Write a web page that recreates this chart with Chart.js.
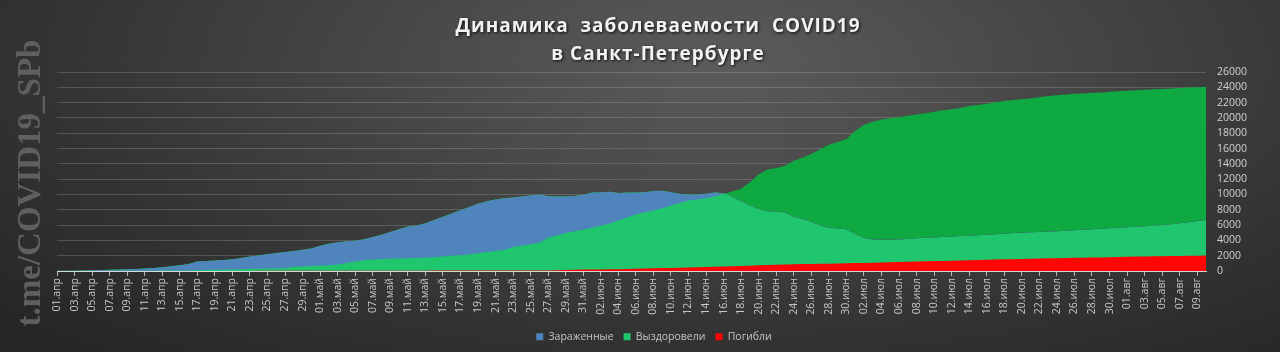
<!DOCTYPE html>
<html>
<head>
<meta charset="utf-8">
<script src="https://cdn.jsdelivr.net/npm/chart.js@4/dist/chart.umd.min.js"></script>
<style>
  html, body { margin: 0; padding: 0; }
  #wrap {
    width: 1280px; height: 352px; position: relative;
    background: radial-gradient(ellipse 75% 110% at 56% 18%, #5c5c5c 0%, #474747 35%, #333333 70%, #262626 100%);
  }
</style>
</head>
<body>
<div id="wrap"><canvas id="myChart"></canvas></div>
<script>
// month name + number of days shown
const months = [['апр', 30], ['май', 31], ['июн', 30], ['июл', 31], ['авг', 10]];

// active cases (blue)
const infected = [
  20, 30, 40, 60, 90, 120, 150, 200, 240, 270,
  330, 400, 500, 620, 740, 900, 1250, 1320, 1380, 1450,
  1550, 1700, 1900, 2050, 2200, 2350, 2480, 2620, 2780, 2950,
  3300, 3550, 3750, 3900, 3950, 4150, 4450, 4750, 5100, 5450,
  5800, 5950, 6250, 6650, 7100, 7500, 7950, 8350, 8800, 9100,
  9350, 9500, 9600, 9750, 9850, 9980, 9780, 9720, 9750, 9800,
  9950, 10250, 10300, 10350, 10200, 10250, 10250, 10300, 10450, 10500,
  10300, 10100, 9950, 10000, 10100, 10250, 10150, 9700, 9150, 8550,
  8100, 7800, 7750, 7650, 7100, 6800, 6450, 5950, 5650, 5550,
  5450, 4850, 4300, 4100, 4080, 4080, 4120, 4180, 4280, 4330,
  4380, 4430, 4480, 4560, 4620, 4680, 4720, 4800, 4880, 4950,
  4990, 5050, 5100, 5140, 5200, 5260, 5330, 5400, 5450, 5520,
  5580, 5660, 5720, 5790, 5860, 5920, 6020, 6120, 6250, 6380,
  6520, 6650
];

// recovered (green)
const recovered = [
  0, 0, 5, 8, 10, 15, 20, 25, 30, 35,
  40, 45, 50, 60, 70, 80, 100, 130, 150, 170,
  200, 240, 280, 300, 320, 340, 360, 560, 600, 640,
  680, 760, 850, 1050, 1250, 1400, 1500, 1560, 1600, 1640,
  1680, 1710, 1740, 1800, 1880, 1980, 2060, 2150, 2330, 2480,
  2620, 2740, 3150, 3300, 3500, 3700, 4350, 4650, 4950, 5200,
  5400, 5650, 5900, 6200, 6600, 7000, 7400, 7650, 7900, 8200,
  8550, 8900, 9200, 9350, 9500, 9750, 10100, 10400, 10750, 11600,
  12650, 13250, 13450, 13750, 14400, 14800, 15300, 15900, 16500, 16850,
  17250, 18300, 19100, 19500, 19800, 19950, 20100, 20300, 20450, 20600,
  20800, 21000, 21120, 21300, 21550, 21700, 21850, 22050, 22200, 22350,
  22450, 22550, 22700, 22850, 22950, 23050, 23150, 23200, 23280, 23330,
  23420, 23500, 23560, 23620, 23680, 23740, 23790, 23840, 23900, 23960,
  24020, 24060
];

// deaths (red)
const deaths = [
  0, 0, 1, 1, 2, 2, 3, 3, 4, 4,
  5, 5, 6, 7, 8, 9, 10, 11, 12, 13,
  14, 15, 16, 17, 18, 19, 20, 21, 22, 23,
  24, 26, 28, 30, 32, 34, 36, 38, 40, 42,
  44, 46, 48, 50, 52, 54, 56, 58, 60, 62,
  64, 66, 68, 70, 72, 75, 80, 90, 120, 150,
  180, 200, 210, 220, 240, 260, 290, 320, 350, 380,
  400, 420, 450, 480, 520, 560, 600, 630, 660, 700,
  740, 780, 820, 850, 880, 900, 920, 940, 960, 980,
  1000, 1030, 1060, 1090, 1120, 1150, 1180, 1210, 1240, 1270,
  1300, 1320, 1340, 1360, 1400, 1430, 1460, 1490, 1520, 1550,
  1580, 1610, 1640, 1660, 1680, 1700, 1720, 1740, 1760, 1780,
  1810, 1840, 1860, 1880, 1900, 1920, 1940, 1955, 1970, 1985,
  2000, 2010
];

const titleLines = ['Динамика  заболеваемости  COVID19', 'в Санкт-Петербурге'];
const watermark = 't.me/COVID19_SPb';

const labels = [];
months.forEach(([name, days]) => {
  for (let d = 1; d <= days; d++) {
    labels.push((d < 10 ? '0' : '') + d + '.' + name);
  }
});

const blue = '#4f84bd';
const lightGreen = '#1fc66d';
const darkGreen = '#0ea941';
const red = '#ff0505';

// title + watermark drawn on the canvas
const decor = {
  id: 'decor',
  afterDraw(chart) {
    const ctx = chart.ctx;
    ctx.save();
    ctx.textAlign = 'center';
    ctx.textBaseline = 'middle';
    ctx.font = 'bold 19px "Open Sans"';
    ctx.letterSpacing = '1px';
    ctx.shadowColor = 'rgba(0,0,0,0.85)';
    ctx.shadowBlur = 3;
    ctx.shadowOffsetX = 1;
    ctx.shadowOffsetY = 1;
    ctx.fillStyle = '#f2f2f2';
    ctx.fillText(titleLines[0], 658, 27);
    ctx.fillText(titleLines[1], 658, 55);
    ctx.restore();

    ctx.save();
    ctx.translate(40, 183);
    ctx.rotate(-Math.PI / 2);
    ctx.textAlign = 'center';
    ctx.textBaseline = 'alphabetic';
    ctx.font = 'bold 33px "Liberation Serif"';
    ctx.fillStyle = '#5f5f5f';
    ctx.fillText(watermark, 0, 0);
    ctx.restore();
  }
};

const data = {
  labels: labels,
  datasets: [
    {
      label: 'Зараженные',
      data: infected,
      backgroundColor: blue,
      borderColor: 'transparent',
      borderWidth: 0,
      pointRadius: 0,
      fill: { target: 'origin', above: lightGreen, below: lightGreen },
      order: 3,
    },
    {
      label: 'Выздоровели',
      data: recovered,
      backgroundColor: lightGreen,
      borderColor: 'transparent',
      borderWidth: 0,
      pointRadius: 0,
      fill: { target: 0, above: darkGreen, below: blue },
      order: 2,
    },
    {
      label: 'Погибли',
      data: deaths,
      backgroundColor: red,
      borderColor: 'transparent',
      borderWidth: 0,
      pointRadius: 0,
      fill: 'origin',
      order: 1,
    },
  ]
};

const config = {
  type: 'line',
  data: data,
  options: {
    responsive: true,
    maintainAspectRatio: false,
    animation: false,
    layout: { padding: { left: 57, right: 29, top: 72, bottom: 0 } },
    scales: {
      x: {
        offset: false,
        grid: { drawOnChartArea: false, drawTicks: true, tickLength: 5, color: '#b8b8b8' },
        border: { color: '#d8d8d8', width: 1 },
        ticks: {
          autoSkip: false, maxRotation: 90, minRotation: 90, padding: 2,
          color: '#c8c8c8', font: { family: 'Open Sans', size: 10.5 }
        },
        afterBuildTicks: (s) => { s.ticks = s.ticks.filter(t => t.value % 2 === 0); },
        afterFit: (s) => { s.height = 50.5; },
      },
      y: {
        position: 'right',
        min: 0,
        max: 26000,
        grid: { color: 'rgba(255,255,255,0.17)', drawTicks: false },
        border: { display: false },
        ticks: {
          stepSize: 2000, padding: 11, autoSkip: false,
          callback: (v) => String(v),
          color: '#d0d0d0', font: { family: 'Open Sans', size: 10.5 }
        },
        afterFit: (s) => { s.width = 45; },
      }
    },
    plugins: {
      legend: {
        position: 'bottom',
        labels: {
          boxWidth: 7, boxHeight: 7, padding: 10,
          color: '#c4c4c4', font: { family: 'Open Sans', size: 10.5 },
          sort: (a, b) => a.datasetIndex - b.datasetIndex,
        }
      },
      title: { display: false },
      tooltip: { enabled: false },
    },
  },
  plugins: [decor],
};

var myChart = new Chart(document.getElementById('myChart'), config);
</script>
</body>
</html>
